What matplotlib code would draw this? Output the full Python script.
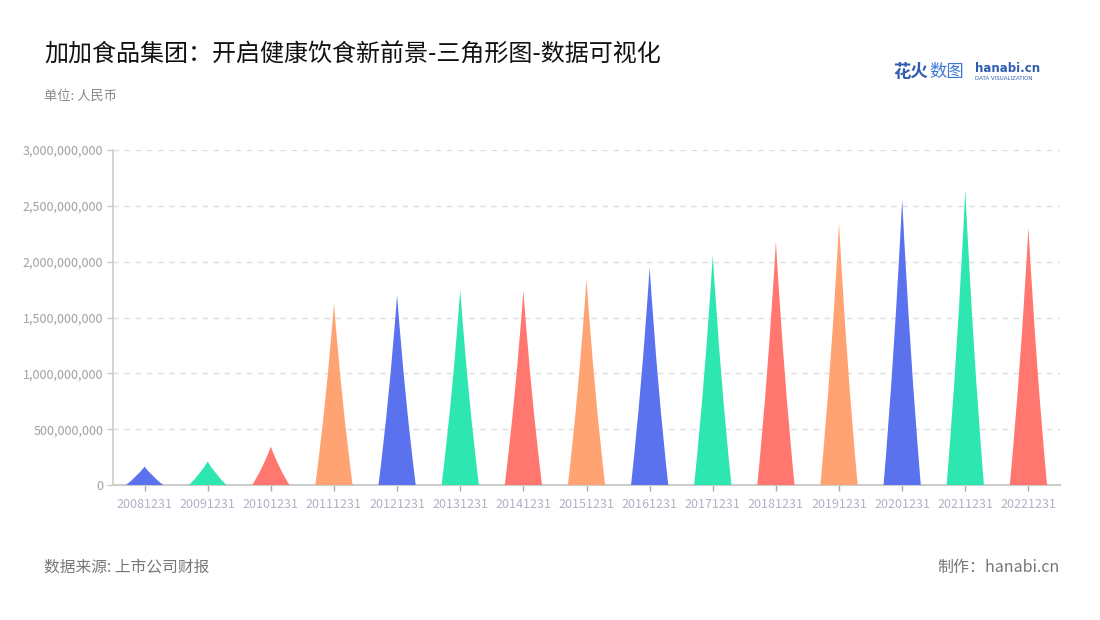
import matplotlib
matplotlib.use("Agg")
import matplotlib.pyplot as plt
from matplotlib.path import Path
from matplotlib.patches import PathPatch
from matplotlib.ticker import FuncFormatter

plt.rcParams['font.family'] = ['Noto Sans CJK SC', 'DejaVu Sans']

# data
dates = ['20081231', '20091231', '20101231', '20111231', '20121231',
         '20131231', '20141231', '20151231', '20161231', '20171231',
         '20181231', '20191231', '20201231', '20211231', '20221231']
values = [164e6, 209e6, 343e6, 1627e6, 1701e6,
          1746e6, 1740e6, 1842e6, 1949e6, 2060e6,
          2179e6, 2343e6, 2558e6, 2642e6, 2304e6]
palette = ['#5A72EE', '#2EE6B0', '#FF776F', '#FFA373']

fig = plt.figure(figsize=(11, 6.2), dpi=100)
ax = fig.add_axes([113 / 1100, 1 - 485 / 620, 947 / 1100, 335 / 620])


def spike(cx, h, hw):
    # triangle with slightly concave sides
    verts = [(cx - hw, 0), (cx + hw, 0),
             (cx + hw * 0.42, h * 0.45), (cx, h),
             (cx - hw * 0.42, h * 0.45), (cx - hw, 0), (cx - hw, 0)]
    codes = [Path.MOVETO, Path.LINETO,
             Path.CURVE3, Path.CURVE3,
             Path.CURVE3, Path.CURVE3, Path.CLOSEPOLY]
    return Path(verts, codes)


for i, v in enumerate(values):
    ax.add_patch(PathPatch(spike(i, v, 0.295), facecolor=palette[i % 4],
                           edgecolor='none', zorder=3))

ax.set_xlim(-0.5, len(dates) - 0.5)
ax.set_ylim(0, 3e9)
ax.set_yticks([i * 5e8 for i in range(7)])
ax.yaxis.set_major_formatter(FuncFormatter(lambda v, p: f'{int(v):,}'))
ax.set_xticks(range(len(dates)))
ax.set_xticklabels(dates)

ax.grid(axis='y', linestyle=(0, (4, 4)), color='#DDDDDD', linewidth=1, zorder=0)
for s in ['top', 'right']:
    ax.spines[s].set_visible(False)
ax.spines['left'].set_color('#CCCCCC')
ax.spines['left'].set_linewidth(1.2)
ax.spines['bottom'].set_color('#CCCCCC')
ax.spines['bottom'].set_linewidth(1.5)
ax.tick_params(axis='y', colors='#CCCCCC', labelcolor='#A0A0A0', labelsize=9,
               length=4, width=1, pad=3)
ax.tick_params(axis='x', colors='#AAAAAA', labelcolor='#AEB2C4', labelsize=9,
               length=4, width=1, pad=5)

# titles and notes
fig.text(44 / 1100, 1 - 55 / 620, '加加食品集团：开启健康饮食新前景-三角形图-数据可视化',
         fontsize=17.3, color='#111111', va='center')
fig.text(44 / 1100, 1 - 96 / 620, '单位: 人民币', fontsize=9.5, color='#888888', va='center')
fig.text(44 / 1100, 1 - 567 / 620, '数据来源: 上市公司财报', fontsize=11.3, color='#777777', va='center')
fig.text(1060 / 1100, 1 - 567 / 620, '制作：hanabi.cn', fontsize=11.5, color='#777777',
         va='center', ha='right')

# logo
fig.text(893 / 1100, 1 - 72 / 620, '花火', fontsize=12.5, color='#2F5DB0', weight='bold', va='center')
fig.text(929 / 1100, 1 - 72 / 620, '数图', fontsize=12.5, color='#3F7BD6', va='center')
fig.text(975 / 1100, 1 - 69 / 620, 'hanabi.cn', fontsize=8.5, color='#2F5DB0', weight='bold',
         va='center', family=['DejaVu Sans'])
fig.text(975 / 1100, 1 - 79 / 620, 'DATA VISUALIZATION', fontsize=4, color='#2F5DB0',
         va='center', family=['DejaVu Sans'])

fig.savefig('out.png', dpi=100, facecolor='white')
